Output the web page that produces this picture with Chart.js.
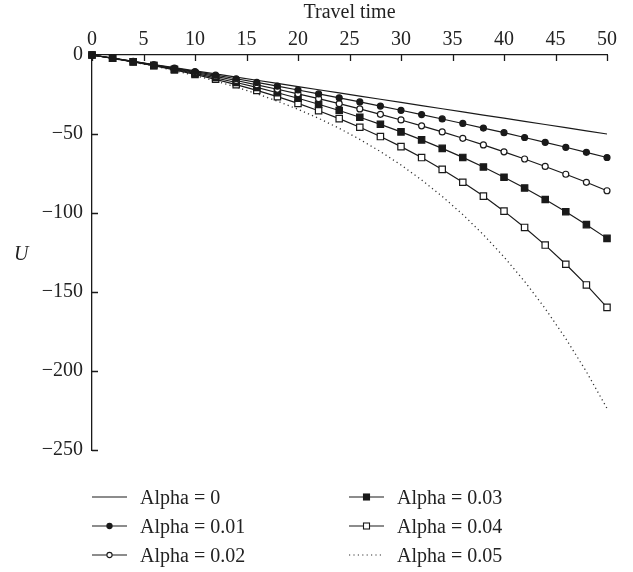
<!DOCTYPE html>
<html>
<head>
<meta charset="utf-8">
<script src="https://cdn.jsdelivr.net/npm/chart.js@4"></script>
<style>
  body { margin: 0; background: #fff; }
  #wrap { position: relative; width: 633px; height: 572px; }
  #yTitle { position: absolute; left: 14px; top: 242px; font: italic 20px 'Liberation Serif', serif; color: #222; }
  .leg { position: absolute; font: 20px 'Liberation Serif', serif; color: #222; display: flex; align-items: center; height: 24px; }
  .leg svg { margin-right: 13px; }
</style>
</head>
<body>
<div id="wrap">
  <canvas id="chartCanvas" width="633" height="572"></canvas>
  <span id="yTitle">U</span>
  <div id="legend"></div>
</div>
<script>
// travel time, every 2 units
const times = [0, 2, 4, 6, 8, 10, 12, 14, 16, 18, 20, 22, 24, 26, 28, 30, 32, 34, 36, 38, 40, 42, 44, 46, 48, 50];

const alpha0 = [0, -2, -4, -6, -8, -10, -12, -14, -16, -18, -20, -22, -24, -26, -28, -30, -32, -34, -36, -38, -40, -42, -44, -46, -48, -50];
const alpha001 = [0, -2.02, -4.08, -6.18, -8.33, -10.52, -12.75, -15.03, -17.35, -19.72, -22.14, -24.61, -27.12, -29.69, -32.31, -34.99, -37.71, -40.49, -43.33, -46.23, -49.18, -52.2, -55.27, -58.41, -61.61, -64.87];
const alpha002 = [0, -2.04, -4.16, -6.37, -8.68, -11.07, -13.56, -16.16, -18.86, -21.67, -24.59, -27.64, -30.8, -34.1, -37.53, -41.11, -44.82, -48.69, -52.72, -56.91, -61.28, -65.82, -70.55, -75.46, -80.58, -85.91];
const alpha003 = [0, -2.06, -4.25, -6.57, -9.04, -11.66, -14.44, -17.4, -20.54, -23.87, -27.4, -31.16, -35.15, -39.38, -43.88, -48.65, -53.72, -59.11, -64.82, -70.89, -77.34, -84.18, -91.45, -99.16, -107.36, -116.06];
const alpha004 = [0, -2.08, -4.34, -6.78, -9.43, -12.3, -15.4, -18.77, -22.41, -26.36, -30.64, -35.27, -40.29, -45.73, -51.62, -58.0, -64.92, -72.4, -80.52, -89.31, -98.83, -109.14, -120.31, -132.41, -145.52, -159.73];
const alpha005 = [0, -2.1, -4.43, -7.0, -9.84, -12.97, -16.44, -20.28, -24.51, -29.19, -34.37, -40.08, -46.4, -53.39, -61.1, -69.63, -79.06, -89.48, -100.99, -113.72, -127.78, -143.32, -160.5, -179.48, -200.46, -223.65];

const xTicks = [0, 5, 10, 15, 20, 25, 30, 35, 40, 45, 50];
const yTicks = [0, -50, -100, -150, -200, -250];
const seriesNames = ['Alpha = 0', 'Alpha = 0.01', 'Alpha = 0.02', 'Alpha = 0.03', 'Alpha = 0.04', 'Alpha = 0.05'];

const ink = '#1a1a1a';
const serif = "'Liberation Serif', serif";

function toPoints(vals) {
  return times.map((t, i) => ({x: t, y: vals[i]}));
}

const styles = [
  {pointStyle: false, radius: 0, fill: ink, dash: []},
  {pointStyle: 'circle', radius: 3, fill: ink, dash: []},
  {pointStyle: 'circle', radius: 3, fill: '#fff', dash: []},
  {pointStyle: 'rect', radius: 4.5, fill: ink, dash: []},
  {pointStyle: 'rect', radius: 4.5, fill: '#fff', dash: []},
  {pointStyle: false, radius: 0, fill: ink, dash: [1.2, 3.2]}
];
const allSeries = [alpha0, alpha001, alpha002, alpha003, alpha004, alpha005];

const datasets = allSeries.map((vals, i) => ({
  label: seriesNames[i],
  data: toPoints(vals),
  borderColor: i === 5 ? '#333' : ink,
  borderWidth: i === 5 ? 1.3 : 1.2,
  borderDash: styles[i].dash,
  pointStyle: styles[i].pointStyle,
  pointRadius: styles[i].radius,
  pointBackgroundColor: styles[i].fill,
  pointBorderColor: ink,
  pointBorderWidth: 1.2,
  tension: 0,
  clip: false
}));

// tick marks pointing into the plot
const innerTicks = {
  id: 'innerTicks',
  afterDraw(chart) {
    const ctx = chart.ctx;
    const area = chart.chartArea;
    const xs = chart.scales.x;
    const ys = chart.scales.y;
    ctx.save();
    ctx.strokeStyle = ink;
    ctx.lineWidth = 1.3;
    ctx.beginPath();
    xTicks.forEach(v => {
      const px = Math.round(xs.getPixelForValue(v)) + 0.5;
      ctx.moveTo(px, area.top);
      ctx.lineTo(px, area.top + 6);
    });
    yTicks.forEach(v => {
      const py = Math.round(ys.getPixelForValue(v)) + 0.5;
      ctx.moveTo(area.left, py);
      ctx.lineTo(area.left + 6, py);
    });
    ctx.stroke();
    ctx.restore();
  }
};

const chart = new Chart(document.getElementById('chartCanvas').getContext('2d'), {
  type: 'line',
  data: {datasets: datasets},
  options: {
    responsive: false,
    animation: false,
    layout: {padding: {left: 0, right: 26, top: 0, bottom: 122}},
    plugins: {legend: {display: false}, tooltip: {enabled: false}},
    scales: {
      x: {
        type: 'linear',
        position: 'top',
        min: 0, max: 50,
        afterBuildTicks: s => { s.ticks = xTicks.map(v => ({value: v})); },
        afterFit: s => { s.height = 55; },
        grid: {display: false, drawTicks: false},
        border: {display: true, color: ink, width: 1.3},
        ticks: {color: '#222', font: {family: serif, size: 20}, padding: 3, maxRotation: 0},
        title: {display: true, text: 'Travel time', color: '#222', font: {family: serif, size: 20}, padding: {top: 1, bottom: 0}}
      },
      y: {
        type: 'linear',
        min: -250, max: 0,
        afterBuildTicks: s => { s.ticks = yTicks.map(v => ({value: v})); },
        afterFit: s => { s.width = 92; },
        grid: {display: false, drawTicks: false},
        border: {display: true, color: ink, width: 1.3},
        ticks: {
          color: '#222', font: {family: serif, size: 20}, padding: 9,
          callback: v => (v < 0 ? '\u2212' + Math.abs(v) : String(v))
        }
      }
    }
  },
  plugins: [innerTicks]
});

// legend: two columns of three rows
const legend = document.getElementById('legend');
const legendPos = [[92, 485], [92, 514], [92, 543], [349, 485], [349, 514], [349, 543]];
function symbolSvg(i) {
  const st = styles[i];
  let s = '<svg width="35" height="12" viewBox="0 0 35 12">';
  if (i === 5) {
    s += '<line x1="0" y1="6" x2="35" y2="6" stroke="#333" stroke-width="1.2" stroke-dasharray="1.2 3.2"/>';
  } else {
    s += '<line x1="0" y1="6" x2="35" y2="6" stroke="' + ink + '" stroke-width="1.2"/>';
  }
  if (st.pointStyle === 'circle') {
    s += '<circle cx="17.5" cy="6" r="2.6" fill="' + st.fill + '" stroke="' + ink + '" stroke-width="1.1"/>';
  } else if (st.pointStyle === 'rect') {
    s += '<rect x="14.5" y="3" width="6" height="6" fill="' + st.fill + '" stroke="' + ink + '" stroke-width="1.1"/>';
  }
  return s + '</svg>';
}
seriesNames.forEach((name, i) => {
  const item = document.createElement('div');
  item.className = 'leg';
  item.style.left = legendPos[i][0] + 'px';
  item.style.top = legendPos[i][1] + 'px';
  item.innerHTML = symbolSvg(i) + '<span>' + name + '</span>';
  legend.appendChild(item);
});
</script>
</body>
</html>
